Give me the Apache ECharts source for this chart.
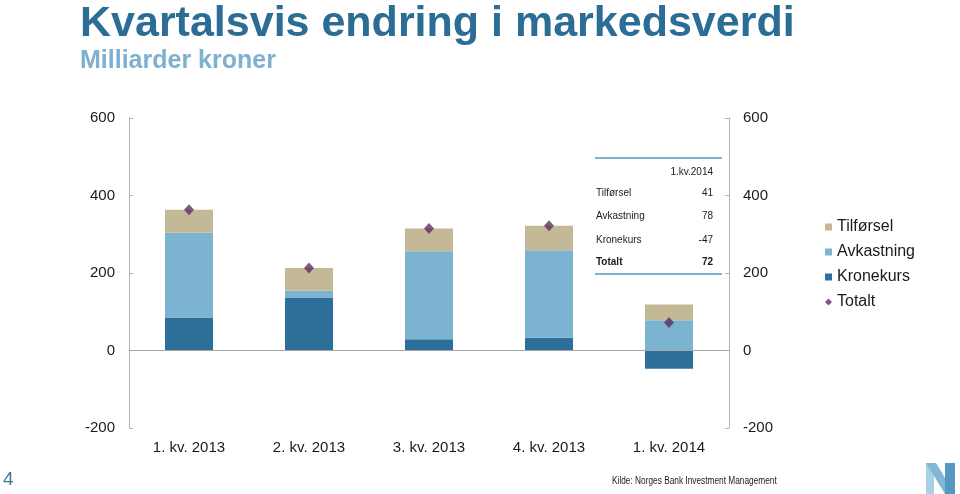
<!DOCTYPE html>
<html>
<head>
<meta charset="utf-8">
<script src="https://cdn.jsdelivr.net/npm/echarts@6/dist/echarts.min.js"></script>
<style>
html,body{margin:0;padding:0;background:#fff;}
#chart{width:960px;height:494px;}
</style>
</head>
<body>
<div id="chart"></div>
<script>
const categories = ['1. kv. 2013', '2. kv. 2013', '3. kv. 2013', '4. kv. 2013', '1. kv. 2014'];
const kronekurs = [85, 137, 29, 33, -47];
const avkastning = [219, 17, 227, 226, 78];
const tilforsel = [59, 59, 59, 63, 41];
const totalt = [363, 213, 315, 322, 72];
const yTicks = [-200, 0, 200, 400, 600];
const tableHeader = '1.kv.2014';
const tableRows = [['Tilførsel', '41'], ['Avkastning', '78'], ['Kronekurs', '-47'], ['Totalt', '72']];

const FONT = "'Liberation Sans', Arial, sans-serif";
const C_TIL = '#c4b996', C_AVK = '#7bb3d1', C_KRO = '#2c6f98', C_TOT = '#5e2d66';

const chart = echarts.init(document.getElementById('chart'), null, {renderer: 'canvas'});

const yAxisBase = (pos) => ({
  type: 'value', position: pos, min: yTicks[0], max: yTicks[yTicks.length - 1], interval: 200,
  axisLine: {show: true, lineStyle: {color: '#b3b3b3', width: 1}},
  axisTick: {show: true, inside: true, length: 4, lineStyle: {color: '#b3b3b3'}},
  splitLine: {show: false},
  axisLabel: {fontFamily: FONT, fontSize: 15, color: '#1a1a1a', margin: 14}
});

const graphics = [
  {type: 'text', left: 80, top: 3, style: {text: 'Kvartalsvis endring i markedsverdi', font: 'bold 43px ' + FONT, fill: '#2b6d95'}},
  {type: 'text', left: 80, top: 49, style: {text: 'Milliarder kroner', font: 'bold 25px ' + FONT, fill: '#7eb1cf'}},
  {type: 'line', shape: {x1: 595, y1: 158, x2: 722, y2: 158}, style: {stroke: '#7eb1cf', lineWidth: 2}},
  {type: 'line', shape: {x1: 595, y1: 274, x2: 722, y2: 274}, style: {stroke: '#7eb1cf', lineWidth: 2}},
  {type: 'text', x: 713, y: 172, style: {text: tableHeader, font: '10px ' + FONT, fill: '#1a1a1a', textAlign: 'right', textVerticalAlign: 'middle'}},
  {type: 'text', left: 3, top: 470, style: {text: '4', font: '19px ' + FONT, fill: '#3f7597'}},
  {type: 'text', x: 612, y: 481, scaleX: 0.83, style: {text: 'Kilde: Norges Bank Investment Management', font: '10px ' + FONT, fill: '#1a1a1a', textVerticalAlign: 'middle'}},
  {type: 'polygon', shape: {points: [[926, 463], [934, 463], [934, 494], [926, 494]]}, style: {fill: '#a6d0e6'}},
  {type: 'polygon', shape: {points: [[926, 463], [936, 463], [955, 494], [945, 494]]}, style: {fill: '#80b9d7'}},
  {type: 'polygon', shape: {points: [[945, 463], [955, 463], [955, 494], [945, 494]]}, style: {fill: '#5597c0'}}
];
const rowY = [193, 216.5, 240, 262.5];
tableRows.forEach((r, i) => {
  const bold = i === tableRows.length - 1 ? 'bold ' : '';
  graphics.push({type: 'text', x: 596, y: rowY[i], style: {text: r[0], font: bold + '10px ' + FONT, fill: '#1a1a1a', textVerticalAlign: 'middle'}});
  graphics.push({type: 'text', x: 713, y: rowY[i], style: {text: r[1], font: bold + '10px ' + FONT, fill: '#1a1a1a', textAlign: 'right', textVerticalAlign: 'middle'}});
});

chart.setOption({
  animation: false,
  grid: {left: 129, right: 231, top: 118, bottom: 66, containLabel: false},
  legend: {
    orient: 'vertical', left: 825, top: 219, padding: 0, itemGap: 9, itemWidth: 7, itemHeight: 7, icon: 'rect',
    textStyle: {fontFamily: FONT, fontSize: 16, color: '#1a1a1a', lineHeight: 16},
    data: [{name: 'Tilførsel'}, {name: 'Avkastning'}, {name: 'Kronekurs'}, {name: 'Totalt', icon: 'diamond'}]
  },
  xAxis: {
    type: 'category', data: categories,
    axisLine: {show: false, onZero: false}, axisTick: {show: false},
    axisLabel: {fontFamily: FONT, fontSize: 15, color: '#1a1a1a', margin: 12}
  },
  yAxis: [yAxisBase('left'), yAxisBase('right')],
  graphic: graphics,
  series: [
    {name: 'Kronekurs', type: 'bar', stack: 'a', data: kronekurs, barWidth: 48, itemStyle: {color: C_KRO},
      markLine: {silent: true, symbol: 'none', label: {show: false}, lineStyle: {color: '#a6a6a6', width: 1, type: 'solid'}, data: [{yAxis: 0}]}},
    {name: 'Avkastning', type: 'bar', stack: 'a', data: avkastning, barWidth: 48, itemStyle: {color: C_AVK}},
    {name: 'Tilførsel', type: 'bar', stack: 'a', data: tilforsel, barWidth: 48, itemStyle: {color: C_TIL}},
    {name: 'Totalt', type: 'scatter', data: totalt, symbol: 'diamond', symbolSize: [10, 11], itemStyle: {color: C_TOT}, z: 5}
  ]
});
</script>
</body>
</html>
